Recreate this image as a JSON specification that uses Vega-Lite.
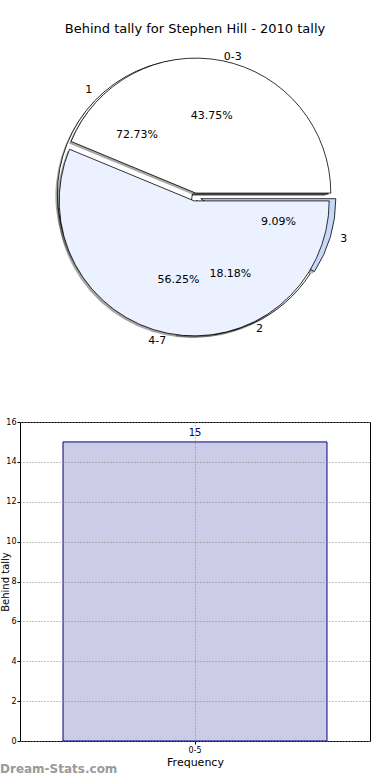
{
  "$schema": "https://vega.github.io/schema/vega-lite/v6.json",
  "padding": {"left": -1, "top": 23, "right": 0, "bottom": 0},
  "datasets": {
    "outer": [
      {"slice": "0-3", "count": 7, "pct": "43.75%"},
      {"slice": "4-7", "count": 9, "pct": "56.25%"}
    ],
    "inner": [
      {"slice": "1", "count": 8, "pct": "72.73%"},
      {"slice": "2", "count": 2, "pct": "18.18%"},
      {"slice": "3", "count": 1, "pct": "9.09%"}
    ],
    "bars": [
      {"bin": "0-5", "freq": 15}
    ]
  },
  "title": {
    "text": "Behind tally for Stephen Hill - 2010 tally",
    "fontSize": 13,
    "fontWeight": "normal",
    "font": "DejaVu Sans",
    "color": "#000000",
    "anchor": "middle",
    "frame": "group",
    "offset": 15
  },
  "spacing": 87,
  "bounds": "flush",
  "config": {
    "view": {"stroke": null},
    "font": "DejaVu Sans"
  },
  "vconcat": [
    {
      "width": 350,
      "height": 276,
      "resolve": {"scale": {"theta": "independent", "color": "independent"}},
      "layer": [
        {
          "data": {"name": "inner"},
          "mark": {
            "type": "arc", "radius": 135, "fill": "#000000", "fillOpacity": 0.35,
            "xOffset": {"expr": "-2 + (datum.slice == '1' ? -2.6 : datum.slice == '2' ? 1.7 : 5.8)"},
            "yOffset": {"expr": "2 + (datum.slice == '1' ? -3 : datum.slice == '2' ? 3.6 : 1.7)"}
          },
          "encoding": {
            "theta": {"field": "count", "type": "quantitative", "stack": true, "scale": {"range": [1.5708, 7.854]}},
            "order": {"field": "slice", "sort": "descending"}
          }
        },
        {
          "data": {"name": "inner"},
          "mark": {
            "type": "arc", "radius": 135, "stroke": "#000000", "strokeWidth": 0.8,
            "xOffset": {"expr": "datum.slice == '1' ? -2.6 : datum.slice == '2' ? 1.7 : 5.8"},
            "yOffset": {"expr": "datum.slice == '1' ? -3 : datum.slice == '2' ? 3.6 : 1.7"}
          },
          "encoding": {
            "theta": {"field": "count", "type": "quantitative", "stack": true, "scale": {"range": [1.5708, 7.854]}},
            "order": {"field": "slice", "sort": "descending"},
            "color": {"field": "slice", "type": "nominal", "scale": {"domain": ["1", "2", "3"], "range": ["#ffffff", "#ffffff", "#c6d9f9"]}, "legend": null}
          }
        },
        {
          "data": {"name": "outer"},
          "mark": {
            "type": "arc", "radius": 135, "fill": "#000000", "fillOpacity": 0.35,
            "xOffset": {"expr": "-2 + (datum.slice == '0-3' ? 0.8 : -0.8)"},
            "yOffset": {"expr": "2 + (datum.slice == '0-3' ? -3.9 : 3.9)"}
          },
          "encoding": {
            "theta": {"field": "count", "type": "quantitative", "stack": true, "scale": {"range": [1.5708, 7.854]}},
            "order": {"field": "slice", "sort": "descending"}
          }
        },
        {
          "data": {"name": "outer"},
          "mark": {
            "type": "arc", "radius": 135, "stroke": "#000000", "strokeWidth": 0.8,
            "xOffset": {"expr": "datum.slice == '0-3' ? 0.8 : -0.8"},
            "yOffset": {"expr": "datum.slice == '0-3' ? -3.9 : 3.9"}
          },
          "encoding": {
            "theta": {"field": "count", "type": "quantitative", "stack": true, "scale": {"range": [1.5708, 7.854]}},
            "order": {"field": "slice", "sort": "descending"},
            "color": {"field": "slice", "type": "nominal", "scale": {"domain": ["0-3", "4-7"], "range": ["#ffffff", "#ebf1fe"]}, "legend": null}
          }
        },
        {
          "data": {"name": "inner"},
          "mark": {
            "type": "text", "radius": 143, "fontSize": 11, "font": "DejaVu Sans", "fill": "#000000", "baseline": "middle",
            "align": {"expr": "datum.slice == '1' ? 'right' : 'left'"},
            "xOffset": {"expr": "datum.slice == '1' ? -9 : datum.slice == '2' ? 1.7 : 8"},
            "yOffset": {"expr": "datum.slice == '1' ? 1 : datum.slice == '2' ? 2 : 1.7"}
          },
          "encoding": {
            "theta": {"field": "count", "type": "quantitative", "stack": true, "scale": {"range": [1.5708, 7.854]}},
            "order": {"field": "slice", "sort": "descending"},
            "text": {"field": "slice"}
          }
        },
        {
          "data": {"name": "inner"},
          "mark": {
            "type": "text", "radius": 81, "fontSize": 11, "font": "DejaVu Sans", "fill": "#000000", "baseline": "middle", "align": "center",
            "xOffset": {"expr": "datum.slice == '1' ? -5 : datum.slice == '2' ? 1.7 : 5.8"},
            "yOffset": {"expr": "datum.slice == '1' ? -1 : datum.slice == '2' ? 3.6 : 1.7"}
          },
          "encoding": {
            "theta": {"field": "count", "type": "quantitative", "stack": true, "scale": {"range": [1.5708, 7.854]}},
            "order": {"field": "slice", "sort": "descending"},
            "text": {"field": "pct"}
          }
        },
        {
          "data": {"name": "outer"},
          "mark": {
            "type": "text", "radius": 143, "fontSize": 11, "font": "DejaVu Sans", "fill": "#000000", "baseline": "middle",
            "align": {"expr": "datum.slice == '0-3' ? 'left' : 'right'"},
            "xOffset": {"expr": "datum.slice == '0-3' ? 0.8 : -0.8"},
            "yOffset": {"expr": "datum.slice == '0-3' ? 0.5 : 3.9"}
          },
          "encoding": {
            "theta": {"field": "count", "type": "quantitative", "stack": true, "scale": {"range": [1.5708, 7.854]}},
            "order": {"field": "slice", "sort": "descending"},
            "text": {"field": "slice"}
          }
        },
        {
          "data": {"name": "outer"},
          "mark": {
            "type": "text", "radius": 81, "fontSize": 11, "font": "DejaVu Sans", "fill": "#000000", "baseline": "middle", "align": "center",
            "xOffset": {"expr": "datum.slice == '0-3' ? 0.8 : -0.8"},
            "yOffset": {"expr": "datum.slice == '0-3' ? -1.5 : 3.9"}
          },
          "encoding": {
            "theta": {"field": "count", "type": "quantitative", "stack": true, "scale": {"range": [1.5708, 7.854]}},
            "order": {"field": "slice", "sort": "descending"},
            "text": {"field": "pct"}
          }
        }
      ]
    },
    {
      "width": 350,
      "height": 319,
      "view": {"stroke": "#000000", "strokeWidth": 1},
      "data": {"name": "bars"},
      "title": {
        "text": "Dream-Stats.com",
        "orient": "bottom",
        "anchor": "start",
        "frame": "group",
        "dx": -20,
        "offset": -3,
        "fontSize": 12,
        "fontWeight": "bold",
        "font": "DejaVu Sans",
        "color": "#9a9a9a"
      },
      "encoding": {
        "x": {
          "field": "bin", "type": "nominal",
          "scale": {"paddingInner": 0, "paddingOuter": 0.163},
          "axis": {
            "title": "Frequency", "titleFontSize": 11, "titleFontWeight": "normal", "titleColor": "#000000", "titlePadding": 2,
            "labelAngle": 0, "labelFontSize": 8, "labelColor": "#000000", "labelPadding": 2,
            "tickSize": 3, "tickColor": "#000000", "domain": false,
            "grid": true, "gridDash": [1, 2], "gridColor": "#888888", "gridWidth": 1, "zindex": 1
          }
        },
        "y": {
          "field": "freq", "type": "quantitative",
          "scale": {"domain": [0, 16]},
          "axis": {
            "values": [0, 2, 4, 6, 8, 10, 12, 14, 16],
            "labelOverlap": false,
            "title": "Behind tally", "titleFontSize": 10, "titleFontWeight": "normal", "titleColor": "#000000",
            "titleX": -10,
            "labelFontSize": 8, "labelColor": "#000000", "labelPadding": 1,
            "tickSize": 3, "tickColor": "#000000", "domain": false,
            "grid": true, "gridDash": [1, 2], "gridColor": "#888888", "gridWidth": 1, "zindex": 1
          }
        }
      },
      "layer": [
        {
          "mark": {"type": "bar", "fill": "#ccccE6", "stroke": "#000080", "strokeWidth": 1}
        },
        {
          "mark": {"type": "text", "dy": -9, "fill": "#000080", "fontSize": 10, "font": "DejaVu Sans"},
          "encoding": {
            "text": {"field": "freq"}
          }
        }
      ]
    }
  ]
}
